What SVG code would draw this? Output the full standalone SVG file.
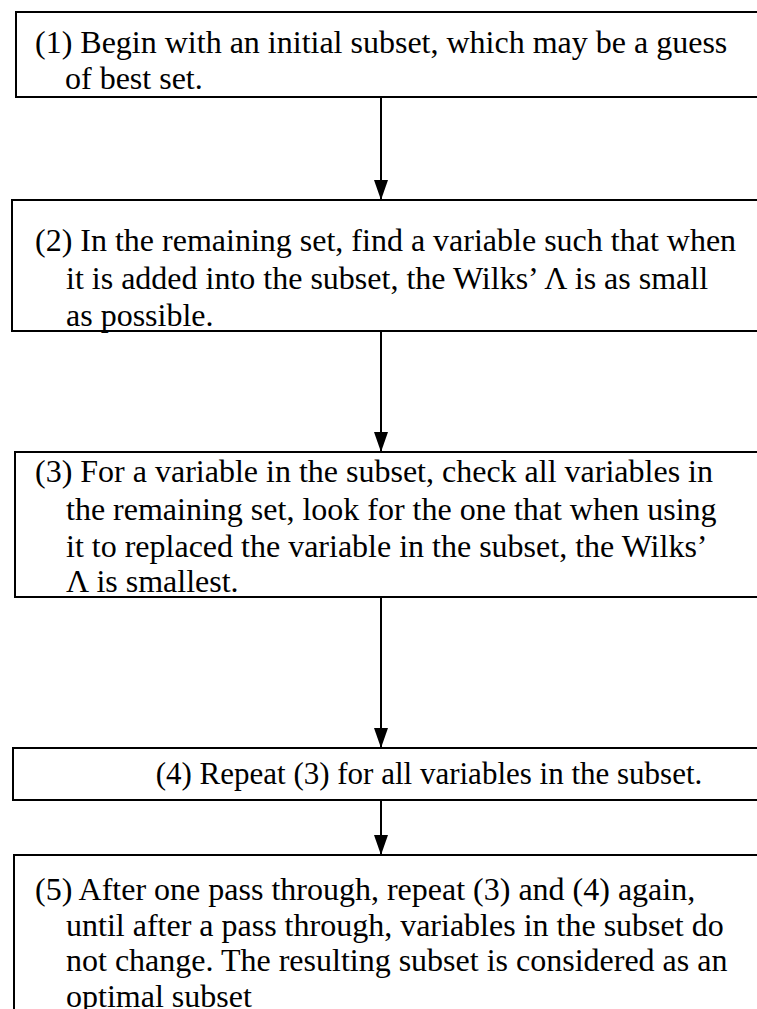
<svg xmlns="http://www.w3.org/2000/svg" width="757" height="1009" viewBox="0 0 757 1009">
<defs>
<style>
.box{fill:#fff;stroke:#000;stroke-width:2}
.t{font-family:"Liberation Serif","Times New Roman",serif;font-size:32px;fill:#000}
.c{stroke:#000;stroke-width:2;fill:none}
</style>
<marker id="ah" viewBox="0 0 20 14" refX="20" refY="7" markerWidth="20" markerHeight="14" markerUnits="userSpaceOnUse" orient="auto">
<path d="M0,0 L20,7 L0,14 Z" fill="#000"/>
</marker>
</defs>
<rect width="757" height="1009" fill="#fff"/>
<g id="node1">
<rect class="box" x="16" y="12" width="760" height="85"/>
<text class="t" x="35" y="53">(1) Begin with an initial subset, which may be a guess</text>
<text class="t" x="65" y="89">of best set.</text>
</g>
<g id="node2">
<rect class="box" x="12" y="200" width="760" height="131"/>
<text class="t" x="35" y="251">(2) In the remaining set, find a variable such that when</text>
<text class="t" x="66" y="289">it is added into the subset, the Wilks’ Λ is as small</text>
<text class="t" x="66" y="326">as possible.</text>
</g>
<g id="node3">
<rect class="box" x="15" y="452" width="760" height="145"/>
<text class="t" x="35" y="482">(3) For a variable in the subset, check all variables in</text>
<text class="t" x="66" y="520">the remaining set, look for the one that when using</text>
<text class="t" x="66" y="557">it to replaced the variable in the subset, the Wilks’</text>
<text class="t" x="66" y="592">Λ is smallest.</text>
</g>
<g id="node4">
<rect class="box" x="13" y="748" width="760" height="52"/>
<text class="t" x="429" y="784" text-anchor="middle" style="font-size:31px">(4) Repeat (3) for all variables in the subset.</text>
</g>
<g id="node5">
<path class="box" d="M14,1012 L14,855 L780,855 L780,1012"/>
<text class="t" x="35" y="900">(5) After one pass through, repeat (3) and (4) again,</text>
<text class="t" x="66" y="935.5">until after a pass through, variables in the subset do</text>
<text class="t" x="66" y="971">not change. The resulting subset is considered as an</text>
<text class="t" x="66" y="1006.5">optimal subset</text>
</g>
<g id="connectors">
<line class="c" x1="381" y1="97" x2="381" y2="200" marker-end="url(#ah)"/>
<line class="c" x1="381" y1="331" x2="381" y2="452" marker-end="url(#ah)"/>
<line class="c" x1="381" y1="597" x2="381" y2="748" marker-end="url(#ah)"/>
<line class="c" x1="381" y1="800" x2="381" y2="855" marker-end="url(#ah)"/>
</g>
</svg>
